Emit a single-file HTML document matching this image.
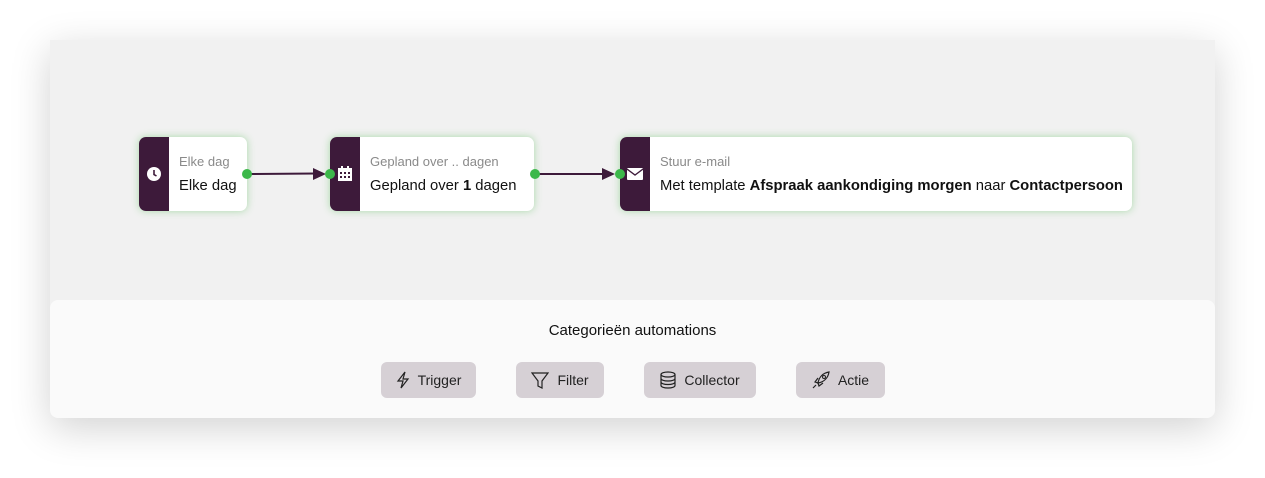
<!DOCTYPE html>
<html><head><style>
body{margin:0;width:1265px;height:478px;background:#fff;font-family:"Liberation Sans",sans-serif;position:relative;overflow:hidden}
.card{position:absolute;left:50px;top:40px;width:1165px;height:378px;background:#f1f1f1;box-shadow:0 10px 40px rgba(0,0,0,0.18);border-radius:0 0 8px 8px}
.bottom{position:absolute;left:50px;top:300px;width:1165px;height:118px;background:#fafafa;border-radius:8px}
.node{position:absolute;top:137px;height:74px;background:#fff;border-radius:7px;box-shadow:0 0 8px rgba(80,190,80,0.45);overflow:hidden}
.strip{position:absolute;left:0;top:0;width:30px;height:100%;background:#3d1a3a}
.t1{position:absolute;left:40px;top:17px;font-size:13px;color:#8a8a8a;white-space:nowrap}
.t2{position:absolute;left:40px;top:41px;font-size:14.8px;color:#111;white-space:nowrap}
.t2 b{font-weight:600}
.dot{position:absolute;width:10px;height:10px;border-radius:50%;background:#3cb84a;top:169px}
.btn{position:absolute;top:362px;height:36px;background:#d6d0d5;border-radius:6px;font-size:14px;color:#222;display:flex;align-items:center;justify-content:center;gap:8px}
</style></head><body>
<div class="card"></div>
<div class="bottom"></div>
<svg style="position:absolute;left:0;top:0" width="1265" height="478">
<line x1="247" y1="174" x2="316" y2="173.5" stroke="#3d1a3a" stroke-width="2"/>
<polygon points="313,168 326,174 313,180" fill="#3d1a3a"/>
<line x1="535" y1="174" x2="604" y2="174" stroke="#3d1a3a" stroke-width="2"/>
<polygon points="602,168 615,174 602,180" fill="#3d1a3a"/>
</svg>
<div class="node" style="left:139px;width:108px"><div class="strip"></div>
<svg style="position:absolute;left:7px;top:29px" width="16" height="16"><circle cx="8" cy="8" r="7" fill="#fff"/><path d="M8 4v4.5l2.5 1.5" stroke="#3d1a3a" stroke-width="1.6" fill="none"/></svg>
<div class="t1">Elke dag</div><div class="t2">Elke dag</div></div>
<div class="node" style="left:330px;width:204px"><div class="strip"></div>
<svg style="position:absolute;left:8px;top:29px" width="14" height="16"><rect x="0" y="2" width="14" height="13" fill="#fff"/><rect x="3" y="0" width="2" height="3" fill="#fff"/><rect x="9" y="0" width="2" height="3" fill="#fff"/><g fill="#3d1a3a"><rect x="2" y="6" width="2" height="2"/><rect x="6" y="6" width="2" height="2"/><rect x="10" y="6" width="2" height="2"/><rect x="2" y="10" width="2" height="2"/><rect x="6" y="10" width="2" height="2"/><rect x="10" y="10" width="2" height="2"/></g></svg>
<div class="t1">Gepland over .. dagen</div><div class="t2">Gepland over <b>1</b> dagen</div></div>
<div class="node" style="left:620px;width:512px"><div class="strip"></div>
<svg style="position:absolute;left:7px;top:31px" width="16" height="12"><rect width="16" height="12" rx="1" fill="#fff"/><path d="M0 1l8 6 8-6" stroke="#3d1a3a" stroke-width="1.3" fill="none"/></svg>
<div class="t1">Stuur e-mail</div><div class="t2">Met template <b>Afspraak aankondiging morgen</b> naar <b>Contactpersoon</b></div></div>
<div class="dot" style="left:242px"></div>
<div class="dot" style="left:325px"></div>
<div class="dot" style="left:530px"></div>
<div class="dot" style="left:615px"></div>
<div style="position:absolute;left:50px;width:1165px;top:322px;text-align:center;font-size:15px;color:#111">Categorieën automations</div>
<div class="btn" style="left:381px;width:95px"><svg width="14" height="18"><path d="M9 1L2 10h5l-2 7 7-9H7z" stroke="#222" stroke-width="1.2" fill="none"/></svg>Trigger</div>
<div class="btn" style="left:516px;width:88px"><svg width="18" height="18"><path d="M1 2h16l-6 8v7l-4-2v-5z" stroke="#222" stroke-width="1.2" fill="none"/></svg>Filter</div>
<div class="btn" style="left:644px;width:112px"><svg width="16" height="18"><ellipse cx="8" cy="3.5" rx="7" ry="2.5" stroke="#222" fill="none" stroke-width="1.2"/><path d="M1 3.5v11c0 1.4 3 2.5 7 2.5s7-1.1 7-2.5v-11M1 7.5c0 1.4 3 2.5 7 2.5s7-1.1 7-2.5M1 11c0 1.4 3 2.5 7 2.5s7-1.1 7-2.5" stroke="#222" fill="none" stroke-width="1.2"/></svg>Collector</div>
<div class="btn" style="left:796px;width:89px"><svg width="18" height="18"><path d="M6 12C7 6 11 2 17 1c-1 6-5 10-11 11zM6 12l-3-1 3-4M6 12l1 3 4-3M4 14l-3 3" stroke="#222" stroke-width="1.2" fill="none"/><circle cx="12" cy="6" r="1.5" stroke="#222" fill="none"/></svg>Actie</div>
</body></html>
